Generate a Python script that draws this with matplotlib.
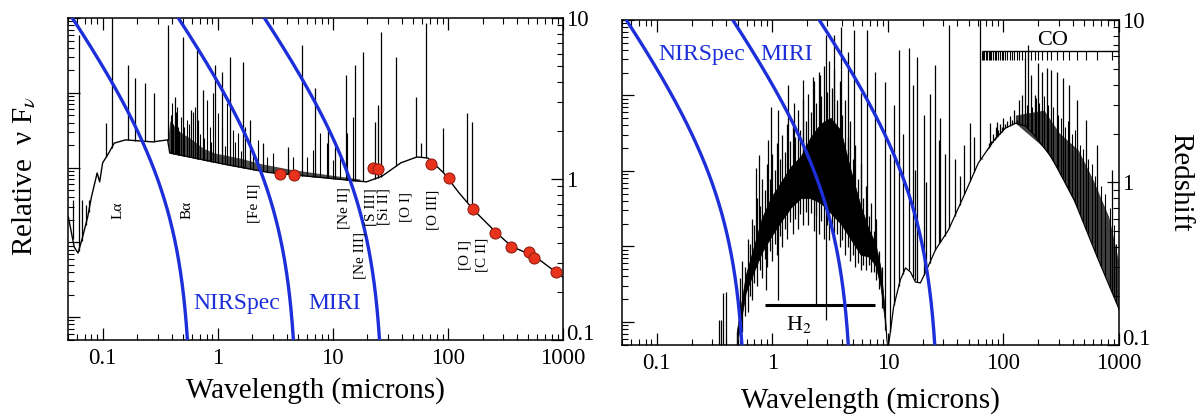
import numpy as np
import matplotlib
matplotlib.use('Agg')
import matplotlib.pyplot as plt
from matplotlib.ticker import LogLocator, NullFormatter, FixedLocator, FixedFormatter

plt.rcParams['font.family'] = ['Liberation Serif', 'DejaVu Serif']
plt.rcParams['mathtext.fontset'] = 'stix'

# ---------------- data ----------------
# JWST spectrograph long-wavelength limits (microns) -> rest wavelength vs redshift
inst_limits = [0.6, 5.0, 28.0]
z_grid = np.logspace(-1, 1, 300)

# Left panel: starburst continuum (microns, relative flux)
left_cont_lam = [0.0504, 0.0566, 0.0611, 0.0659, 0.0741, 0.0799, 0.0896, 0.0942, 0.100, 0.113,
                 0.126, 0.158, 0.272, 0.367, 0.383, 1.25, 2.72, 12.5, 19.6, 26.7, 39.0, 53.7,
                 67.0, 92.0, 125.0, 168.0, 267.0, 360.0, 571.0, 869.0, 1000.0]
left_cont_val = [0.58, 0.378, 0.347, 0.418, 0.58, 0.773, 1.09, 0.96, 1.26, 1.45,
                 1.67, 1.75, 1.70, 1.75, 1.45, 1.22, 1.10, 0.99, 0.96, 1.04, 1.26, 1.37,
                 1.35, 1.09, 0.82, 0.64, 0.46, 0.38, 0.33, 0.264, 0.245]
# dense line forest band (upper envelope)
left_band_lam = [0.367, 0.383, 0.45, 0.571, 0.75, 0.942, 1.55, 2.32, 4.23, 9.42, 17.2]
left_band_top = [1.75, 2.30, 2.00, 1.80, 1.55, 1.45, 1.35, 1.25, 1.15, 1.06, 1.00]
# strong emission lines
left_line_lam = [0.0618, 0.108, 0.120, 0.165, 0.190, 0.232, 0.278, 0.367, 0.423, 0.496,
                 0.582, 0.656, 0.741, 0.942, 1.08, 1.27, 1.65, 1.90, 2.46, 4.06,
                 5.38, 6.97, 9.05, 10.4, 13.0, 15.5, 18.2, 23.2, 24.6, 26.1,
                 35.3, 52.7, 58.2, 64.4, 90.5, 146.0, 162.0,
                 0.0548, 0.0656, 0.0711, 0.0755]
left_line_top = [7.83, 2.23, 12.0, 5.11, 4.24, 3.95, 3.42, 9.05, 3.23, 7.62,
                 2.68, 6.32, 3.57, 5.11, 4.62, 5.73, 5.33, 2.32, 1.67, 1.58,
                 6.79, 3.67, 2.10, 1.58, 4.43, 5.11, 6.15, 2.26, 2.88, 8.19,
                 5.73, 3.23, 1.67, 9.31, 2.07, 2.57, 2.26,
                 0.741, 0.741, 0.69, 0.741]
# weaker lines of the forest
left_small_lam = [0.398, 0.440, 0.449, 0.477, 0.537, 0.607, 0.631, 0.670, 0.802, 0.852,
                  0.905, 1.00, 1.10, 1.20, 1.35, 1.49, 1.72, 2.02, 2.23, 2.67,
                  3.01, 4.49, 5.94, 6.70, 7.71, 8.87, 10.0, 11.5, 13.2, 14.9,
                  0.39, 0.41, 0.43, 0.46, 0.51, 0.56, 0.70, 0.76, 0.88, 1.15, 1.42, 1.60]
left_small_top = [2.96, 2.80, 2.10, 2.42, 2.32, 2.61, 2.80, 2.32, 3.10, 2.10,
                  3.42, 2.57, 2.10, 2.96, 2.02, 1.93, 2.10, 1.51, 1.75, 1.37,
                  1.45, 1.37, 1.37, 1.51, 1.93, 1.67, 1.31, 1.37, 1.93, 2.42,
                  2.5, 2.2, 2.6, 2.0, 2.1, 2.2, 1.9, 1.8, 1.7, 1.6, 1.7, 1.5]
# photometric points
dot_lam = [3.46, 4.58, 22.3, 24.6, 71.1, 102.0, 165.0, 256.0, 353.0, 506.0, 560.0, 869.0]
dot_val = [1.07, 1.06, 1.17, 1.16, 1.24, 1.01, 0.651, 0.462, 0.378, 0.352, 0.323, 0.264]
# line identifications
id_text = ['L\u03b1', 'B\u03b1', '[Fe II]', '[Ne II]', '[Ne III]', '[S III]', '[Si II]',
           '[O I]', '[O III]', '[O I]', '[C II]']
id_lam = [0.136, 0.537, 2.06, 12.5, 17.2, 21.5, 27.8, 43.1, 74.0, 141.0, 196.0]
id_val = [0.641, 0.641, 0.71, 0.66, 0.333, 0.67, 0.67, 0.67, 0.64, 0.337, 0.337]

# Right panel: ULIRG-like spectrum
right_band_lam = [0.491, 0.589, 0.689, 0.809, 0.967, 1.18, 1.44, 1.76, 2.14, 2.61,
                  3.19, 3.89, 4.75, 5.80, 6.80, 7.81, 8.63, 9.35, 9.91]
right_band_low = [0.1, 0.21, 0.28, 0.37, 0.46, 0.57, 0.70, 0.80, 0.80, 0.75,
                  0.65, 0.56, 0.45, 0.36, 0.35, 0.31, 0.23, 0.145, 0.09]
right_band_up = [0.12, 0.27, 0.40, 0.60, 0.80, 1.00, 1.25, 1.45, 1.90, 2.30,
                 2.50, 2.10, 1.20, 0.72, 0.52, 0.42, 0.30, 0.17, 0.09]
# dense molecular-line forest in the band
right_fl_lam = [0.52, 0.55, 0.58, 0.61, 0.64, 0.67, 0.70, 0.74, 0.78, 0.82,
                0.86, 0.90, 0.95, 1.00, 1.05, 1.10, 1.16, 1.22, 1.28, 1.35,
                1.42, 1.50, 1.58, 1.66, 1.75, 1.85, 1.95, 2.05, 2.16, 2.28,
                2.40, 2.53, 2.66, 2.80, 2.95, 3.10, 3.27, 3.45, 3.63, 3.83,
                4.03, 4.25, 4.48, 4.72, 4.97, 5.24, 5.52, 5.81, 6.12, 6.45,
                6.80, 7.16, 7.55, 7.95, 8.40, 8.85]
right_fl_top = [0.26, 0.33, 0.30, 0.45, 0.42, 0.60, 0.55, 0.80, 0.72, 1.05,
                0.90, 1.30, 1.05, 1.50, 1.20, 1.75, 1.40, 1.95, 1.55, 2.30,
                1.80, 2.40, 1.90, 2.80, 2.10, 3.20, 2.40, 3.50, 2.70, 4.20,
                3.10, 4.80, 3.40, 5.20, 3.60, 5.60, 3.80, 5.00, 3.20, 4.20,
                2.60, 3.20, 1.90, 2.40, 1.40, 1.70, 1.05, 1.30, 0.80, 0.95,
                0.62, 0.75, 0.50, 0.60, 0.38, 0.30]
right_fl_bot = [0.10, 0.12, 0.15, 0.16, 0.20, 0.19, 0.24, 0.23, 0.29, 0.26,
                0.34, 0.30, 0.38, 0.33, 0.42, 0.36, 0.47, 0.40, 0.52, 0.45,
                0.57, 0.48, 0.60, 0.52, 0.64, 0.55, 0.66, 0.55, 0.65, 0.50,
                0.62, 0.48, 0.58, 0.45, 0.55, 0.44, 0.52, 0.42, 0.48, 0.40,
                0.44, 0.36, 0.40, 0.33, 0.36, 0.30, 0.32, 0.29, 0.31, 0.29,
                0.31, 0.28, 0.28, 0.25, 0.22, 0.17]
right_cont_lam = [9.91, 10.5, 11.2, 12.8, 14.2, 15.7, 17.3, 19.1, 22.0, 25.8, 33.4, 45.0,
                  60.7, 83.4, 104.0, 127.0, 155.0, 178.0, 259.0, 410.0, 648.0, 985.0, 1000.0]
right_cont_val = [0.09, 0.12, 0.171, 0.251, 0.298, 0.281, 0.244, 0.241, 0.298, 0.385, 0.51, 0.815,
                  1.32, 1.83, 2.16, 2.32, 2.23, 2.02, 1.44, 0.78, 0.348, 0.171, 0.165]
right_forest_lam = [127.0, 224.0, 304.0, 444.0, 598.0, 816.0, 985.0]
right_forest_top = [2.60, 2.79, 2.02, 1.585, 1.035, 0.614, 0.334]
# far-IR forest lines (H2O etc.)
right_fir_lam = [160.0, 175.0, 190.0, 205.0, 225.0, 245.0, 270.0, 295.0, 315.0, 340.0,
                 360.0, 390.0, 420.0, 460.0, 490.0, 540.0, 580.0, 620.0, 700.0, 760.0,
                 830.0, 900.0, 950.0]
right_fir_top = [3.0, 2.9, 3.3, 3.1, 3.4, 3.0, 2.9, 2.6, 2.5, 2.2,
                 2.4, 2.0, 2.1, 1.7, 1.6, 1.4, 1.3, 1.1, 0.95, 0.85,
                 0.7, 0.55, 0.42]
right_line_lam = [0.717, 0.762, 0.911, 0.967, 1.13, 1.36, 1.53, 1.83, 2.23, 2.61,
                  2.89, 3.39, 3.89, 4.48, 5.05, 5.80, 6.66, 7.81, 9.53, 12.4,
                  15.1, 18.0, 25.8, 27.9, 34.1, 51.7, 63.1, 77.1, 88.5,
                  10.5, 11.3, 13.5, 16.5, 17.0, 20.5, 21.5, 23.0, 28.5, 31.0,
                  38.0, 42.0, 46.0, 56.0]
right_line_top = [1.23, 1.48, 1.83, 2.92, 2.79, 3.98, 3.08, 4.27, 4.46, 4.59,
                  8.09, 8.09, 9.06, 6.35, 8.68, 3.55, 8.68, 4.79, 4.15, 6.53,
                  6.72, 5.92, 5.28, 1.83, 9.31, 2.32, 11.0, 2.32, 2.36,
                  1.5, 3.0, 2.0, 4.0, 1.2, 2.6, 1.0, 3.5, 2.5, 1.5,
                  1.4, 1.1, 1.7, 1.9]
right_dip_lam = [0.875, 1.13, 2.41, 2.89]
right_dip_bot = [0.218, 0.189, 0.176, 0.143]
right_blue_lam = [0.343, 0.357, 0.372, 0.395]
right_blue_top = [0.143, 0.143, 0.209, 0.212]
co_lam = [866.7, 650.0, 520.0, 433.3, 371.4, 325.0, 288.9, 260.0, 236.4, 216.7,
          200.0, 185.7, 173.3, 162.5, 152.9, 144.4, 136.8, 130.0, 123.8, 118.2,
          113.0, 108.3, 104.0, 100.0, 96.3, 92.9, 89.7, 86.7, 83.9, 81.3,
          78.8, 76.5, 74.3, 72.2, 70.3, 68.4, 66.7, 65.0]
co_top = [1.19, 1.70, 2.43, 3.22, 3.98, 4.40, 4.79, 4.93, 5.07, 4.79,
          5.44, 3.45, 4.59, 7.01, 5.83, 3.45, 3.22, 2.43, 2.79, 2.43,
          2.55, 2.4, 2.3, 2.5, 2.2, 2.3, 2.1, 2.2, 1.9, 2.0,
          1.8, 1.7, 1.75, 1.6, 1.55, 1.5, 1.45, 1.4]

BLUE = '#1c2fd8'
W, H = 1199, 419


def box(l, t, r, b):
    return [l / W, 1 - b / H, (r - l) / W, (b - t) / H]


def interp_log(x, xp, fp):
    return 10 ** np.interp(np.log10(x), np.log10(xp), np.log10(fp))


def style(ax, pos):
    ax.set_xscale('log')
    ax.set_yscale('log')
    ax.set_xlim(0.05, 1000)
    ax.set_ylim(0.1, 10)
    ax.xaxis.set_major_locator(FixedLocator([0.1, 1, 10, 100, 1000]))
    ax.xaxis.set_major_formatter(FixedFormatter(['0.1', '1', '10', '100', '1000']))
    ax.xaxis.set_minor_locator(LogLocator(base=10, subs=np.arange(2, 10), numticks=20))
    ax.xaxis.set_minor_formatter(NullFormatter())
    ax.yaxis.set_major_locator(FixedLocator([0.1, 1, 10]))
    ax.yaxis.set_major_formatter(FixedFormatter(['0.1', '1', '10']))
    ax.yaxis.set_minor_locator(LogLocator(base=10, subs=np.arange(2, 10), numticks=20))
    ax.yaxis.set_minor_formatter(NullFormatter())
    ax.tick_params(axis='x', which='both', direction='in', top=True, bottom=True,
                   labelsize=16.5, pad=6)
    ax.tick_params(axis='y', which='both', direction='in', left=False, right=True,
                   labelleft=False, labelright=True, labelsize=16.5, pad=2)
    ax.tick_params(which='major', length=8.5, width=0.9)
    ax.tick_params(which='minor', length=4.3, width=0.8)
    for s in ax.spines.values():
        s.set_linewidth(1.1)
    # separate left scale (relative flux) ticks
    axl = fig.add_axes(pos, frameon=False)
    axl.set_yscale('log')
    axl.set_ylim(10 ** -0.307, 1e4)
    axl.set_xticks([])
    axl.yaxis.set_minor_locator(LogLocator(base=10, subs=np.arange(2, 10), numticks=20))
    axl.yaxis.set_minor_formatter(NullFormatter())
    axl.tick_params(axis='y', which='both', direction='in', left=True, right=False,
                    labelleft=False)
    axl.tick_params(which='major', length=8.5, width=0.9)
    axl.tick_params(which='minor', length=4.3, width=0.8)
    axl.patch.set_visible(False)
    axl.set_zorder(0)
    ax.set_zorder(1)


fig = plt.figure(figsize=(W / 100, H / 100), dpi=100)
posL = box(68, 18, 563, 340)
posR = box(622, 20, 1119, 345)
axL = fig.add_axes(posL)
style(axL, posL)
axR = fig.add_axes(posR)
style(axR, posR)
axL.patch.set_visible(False)
axR.patch.set_visible(False)

# ---------- left panel ----------
axL.plot(left_cont_lam, left_cont_val, color='k', lw=1.0, zorder=2)
bl = np.array(left_band_lam)
axL.fill_between(bl, interp_log(bl, left_cont_lam, left_cont_val), left_band_top,
                 color='k', lw=0, alpha=0.7, zorder=2)
ll = np.array(left_line_lam)
axL.vlines(ll, interp_log(ll, left_cont_lam, left_cont_val), left_line_top,
           colors='k', lw=0.9, zorder=2)
ls = np.array(left_small_lam)
axL.vlines(ls, interp_log(ls, left_cont_lam, left_cont_val), left_small_top,
           colors='k', lw=0.8, zorder=2)
for lim in inst_limits:
    axL.plot(lim / (1 + z_grid), z_grid, color=BLUE, lw=2.4, zorder=3)
axL.plot(dot_lam, dot_val, 'o', ms=8, mfc='#e8321c', mec='#8a1a10', mew=0.7, zorder=4)
for t, x, y in zip(id_text, id_lam, id_val):
    axL.text(x, y, t, rotation=90, ha='center', va='center', fontsize=11, zorder=3)
axL.text(1.46, 0.168, 'NIRSpec', color=BLUE, fontsize=17, ha='center', va='center', zorder=5)
axL.text(10.4, 0.168, 'MIRI', color=BLUE, fontsize=17, ha='center', va='center', zorder=5)

# ---------- right panel ----------
axR.fill_between(right_band_lam, right_band_low, right_band_up, color='k', lw=0.5, zorder=2)
fl = np.array(right_fl_lam)
axR.vlines(fl, right_fl_bot, right_fl_top, colors='k', lw=0.9, zorder=2)
axR.plot(right_cont_lam, right_cont_val, color='k', lw=0.9, zorder=2)
rf = np.array(right_forest_lam)
axR.fill_between(rf, interp_log(rf, right_cont_lam, right_cont_val), right_forest_top,
                 color='k', lw=0, alpha=0.75, zorder=2)
fir = np.array(right_fir_lam)
axR.vlines(fir, interp_log(fir, right_cont_lam, right_cont_val), right_fir_top,
           colors='k', lw=0.8, zorder=2)
all_lam = list(right_band_lam) + list(right_cont_lam[1:])
all_val = list(right_band_low) + list(right_cont_val[1:])
order = np.argsort(right_line_lam)
rl = np.array(right_line_lam)[order]
rt = np.array(right_line_top)[order]
axR.vlines(rl, interp_log(rl, all_lam, all_val), rt, colors='k', lw=0.9, zorder=2)
rd = np.array(right_dip_lam)
axR.vlines(rd, right_dip_bot, interp_log(rd, all_lam, all_val), colors='k', lw=0.9, zorder=2)
axR.vlines(right_blue_lam, 0.05, right_blue_top, colors='k', lw=0.9, zorder=2)
cl = np.array(co_lam)
axR.vlines(cl, interp_log(cl, right_cont_lam, right_cont_val), co_top, colors='k', lw=0.9, zorder=2)
# CO comb marker
axR.hlines(6.45, 65.0, 1000, colors='k', lw=1.0, zorder=2)
axR.vlines(cl, 5.7, 6.45, colors='k', lw=0.8, zorder=2)
axR.text(265, 7.5, 'CO', fontsize=16, ha='center', va='center')
# H2 bar
axR.hlines(0.176, 0.857, 7.81, colors='k', lw=2.2, zorder=3)
axR.text(1.69, 0.133, 'H$_2$', fontsize=16, ha='center', va='center')
for lim in inst_limits:
    axR.plot(lim / (1 + z_grid), z_grid, color=BLUE, lw=2.4, zorder=3)
axR.text(0.243, 6.09, 'NIRSpec', color=BLUE, fontsize=17, ha='center', va='center', zorder=5)
axR.text(1.33, 6.09, 'MIRI', color=BLUE, fontsize=17, ha='center', va='center', zorder=5)

# lift the bottom right-axis label slightly so it clears the x label "1000"
for ax in (axL, axR):
    for lab in ax.get_yticklabels():
        if lab.get_text() == '0.1':
            lab.set_va('baseline')

# axis labels
fig.text(315 / W, 1 - 391 / H, 'Wavelength (microns)', ha='center', va='center', fontsize=21)
fig.text(870 / W, 1 - 401 / H, 'Wavelength (microns)', ha='center', va='center', fontsize=21)
fig.text(25 / W, 1 - 176 / H, 'Relative  \u03bd F$_{\\nu}$', ha='center', va='center',
         rotation=90, fontsize=21)
fig.text(1180 / W, 1 - 182 / H, 'Redshift', ha='center', va='center', rotation=270, fontsize=21)

fig.savefig('out.png', dpi=100)
